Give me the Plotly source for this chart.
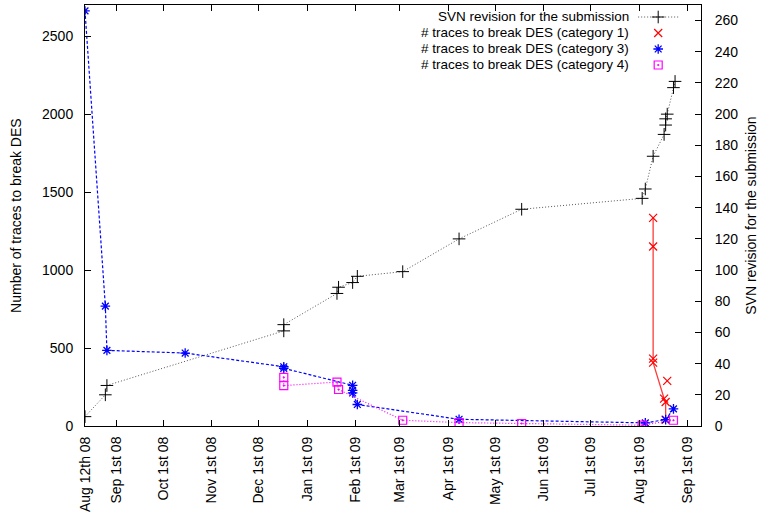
import plotly.graph_objects as go

# SVN revision (right axis)
svn_dates = ["2008-08-12", "2008-08-25", "2008-08-26", "2008-12-17", "2008-12-17",
             "2009-01-20", "2009-01-21", "2009-01-30", "2009-02-02", "2009-03-03",
             "2009-04-08", "2009-05-18", "2009-08-03", "2009-08-05", "2009-08-10",
             "2009-08-17", "2009-08-18", "2009-08-18", "2009-08-19", "2009-08-23",
             "2009-08-24"]
svn_rev = [6, 20, 26, 61, 65, 85, 89, 92, 96, 99, 120, 139, 146, 152, 173,
           187, 193, 197, 200, 217, 221]

# traces to break DES, category 1
cat1_dates = ["2009-08-10", "2009-08-10", "2009-08-10", "2009-08-10", "2009-08-17",
              "2009-08-18", "2009-08-18", None, "2009-08-19"]
cat1_traces = [1335, 1151, 432, 406, 176, 154, 40, None, 289]

# traces to break DES, category 3
cat3_dates = ["2008-08-12", "2008-08-25", "2008-08-26", "2008-10-15", "2008-12-17",
              "2008-12-17", "2009-01-30", "2009-01-30", "2009-01-30", "2009-02-02",
              "2009-04-08", "2009-08-05", "2009-08-18", "2009-08-23"]
cat3_traces = [2662, 769, 485, 468, 380, 370, 261, 229, 212, 138, 43, 20, 41, 110]

# traces to break DES, category 4
cat4_dates = ["2008-12-17", "2008-12-17", "2009-01-20", "2009-01-21", "2009-03-03",
              "2009-04-08", "2009-05-18", "2009-08-03", "2009-08-23"]
cat4_traces = [312, 259, 282, 234, 37, 22, 16, 5, 37]

# x tick labels
x_tick_vals = ["2008-08-12", "2008-09-01", "2008-10-01", "2008-11-01", "2008-12-01",
               "2009-01-01", "2009-02-01", "2009-03-01", "2009-04-01", "2009-05-01",
               "2009-06-01", "2009-07-01", "2009-08-01", "2009-09-01"]
x_tick_text = ["Aug 12th 08", "Sep 1st 08", "Oct 1st 08", "Nov 1st 08", "Dec 1st 08",
               "Jan 1st 09", "Feb 1st 09", "Mar 1st 09", "Apr 1st 09", "May 1st 09",
               "Jun 1st 09", "Jul 1st 09", "Aug 1st 09", "Sep 1st 09"]

legend_names = ["SVN revision for the submission",
                "# traces to break DES (category 1)",
                "# traces to break DES (category 3)",
                "# traces to break DES (category 4)"]

FONT = "Liberation Sans, Arial, sans-serif"
FS = 14
KEY_FS = 13.5

styles = [
    dict(line=dict(color="#555555", width=1, dash="1px,2px"),
         marker=dict(symbol="cross-thin-open", size=9, color="black",
                     line=dict(color="black", width=1))),
    dict(line=dict(color="rgb(255,60,60)", width=1.3),
         marker=dict(symbol="x-thin-open", size=8, color="red",
                     line=dict(color="red", width=1.2))),
    dict(line=dict(color="blue", width=1.2, dash="3px,2px"),
         marker=dict(symbol="asterisk-open", size=8, color="blue",
                     line=dict(color="blue", width=1.3))),
    dict(line=dict(color="magenta", width=1.2, dash="1px,2px"),
         marker=dict(symbol="square-open-dot", size=8, color="magenta",
                     line=dict(color="magenta", width=1.2))),
]

fig = go.Figure()
fig.add_trace(go.Scatter(x=svn_dates, y=svn_rev, yaxis="y2", mode="lines+markers",
                         name=legend_names[0], **styles[0]))
fig.add_trace(go.Scatter(x=cat1_dates, y=cat1_traces, mode="lines+markers",
                         name=legend_names[1], connectgaps=False, **styles[1]))
fig.add_trace(go.Scatter(x=cat3_dates, y=cat3_traces, mode="lines+markers",
                         name=legend_names[2], **styles[2]))
fig.add_trace(go.Scatter(x=cat4_dates, y=cat4_traces, mode="lines+markers",
                         name=legend_names[3], **styles[3]))

# gnuplot-style key: text right-aligned, sample to the right
key_rows = [0.9715, 0.9335, 0.8955, 0.8575]
key_text_x = 0.885
key_line_x = [0.898, 0.963]
key_mark_x = 0.9305
annotations = []
for i, (name, ky) in enumerate(zip(legend_names, key_rows)):
    annotations.append(dict(x=key_text_x, y=ky, xref="paper", yref="paper",
                            text=name, showarrow=False, xanchor="right",
                            yanchor="middle", borderpad=0,
                            font=dict(size=KEY_FS)))
    st = styles[i]
    if i == 0:
        fig.add_trace(go.Scatter(x=key_line_x, y=[ky, ky], xaxis="x2", yaxis="y3",
                                 mode="lines", line=st["line"], showlegend=False,
                                 hoverinfo="skip"))
    fig.add_trace(go.Scatter(x=[key_mark_x], y=[ky], xaxis="x2", yaxis="y3",
                             mode="markers", marker=st["marker"], showlegend=False,
                             hoverinfo="skip"))

annotations.append(dict(x=-0.113, y=0.5, xref="paper", yref="paper",
                        text="Number of traces to break DES", showarrow=False,
                        textangle=-90, xanchor="center", yanchor="middle",
                        font=dict(size=FS)))
annotations.append(dict(x=1.08, y=0.5, xref="paper", yref="paper",
                        text="SVN revision for the submission", showarrow=False,
                        textangle=-90, xanchor="center", yanchor="middle",
                        font=dict(size=FS)))

fig.update_layout(
    width=761, height=514,
    margin=dict(l=85, r=60, t=5, b=88),
    paper_bgcolor="white", plot_bgcolor="white",
    font=dict(family=FONT, size=FS, color="black"),
    showlegend=False,
    annotations=annotations,
    xaxis=dict(
        type="date", range=["2008-08-12", "2009-09-09 14:00"],
        tickmode="array", tickvals=x_tick_vals, ticktext=x_tick_text,
        tickangle=-90, ticks="inside", ticklen=6, tickcolor="black",
        ticklabelstandoff=4,
        showline=True, linecolor="black", linewidth=1, mirror="ticks",
        showgrid=False, zeroline=False, automargin=False,
    ),
    xaxis2=dict(overlaying="x", range=[0, 1], visible=False, anchor="y3"),
    yaxis=dict(
        range=[0, 2700], tickmode="array", tickvals=[0, 500, 1000, 1500, 2000, 2500],
        ticks="inside", ticklen=6, tickcolor="black", ticklabelstandoff=8,
        showline=True, linecolor="black", linewidth=1, mirror=True,
        showgrid=False, zeroline=False, automargin=False,
    ),
    yaxis2=dict(
        range=[0, 270], overlaying="y", side="right",
        tickmode="array", tickvals=list(range(0, 261, 20)),
        ticks="inside", ticklen=6, tickcolor="black", ticklabelstandoff=10,
        showline=True, linecolor="black", linewidth=1,
        showgrid=False, zeroline=False, automargin=False,
    ),
    yaxis3=dict(overlaying="y", range=[0, 1], visible=False, anchor="x2"),
)

fig.write_html("out.html", config={"displayModeBar": False},
               post_script="document.body.style.margin='0';")
